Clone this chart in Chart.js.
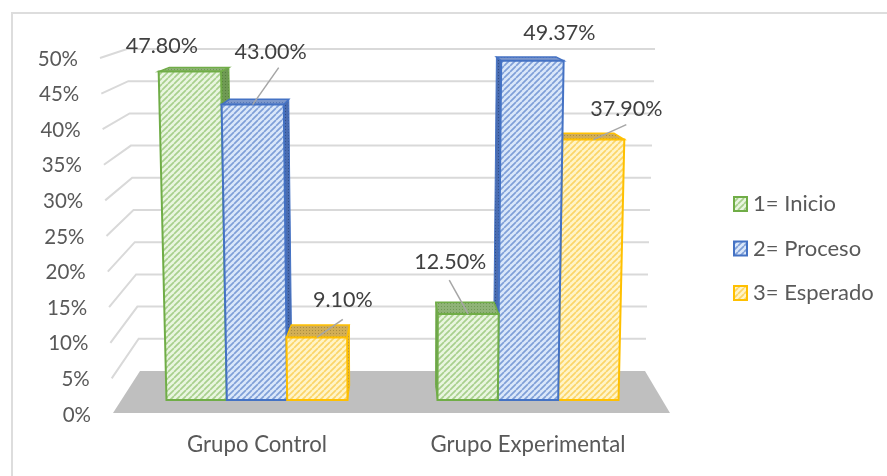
<!DOCTYPE html>
<html>
<head>
<meta charset="utf-8">
<style>
html,body{margin:0;padding:0;background:#fff;}
canvas{display:block;}
</style>
<script src="https://cdn.jsdelivr.net/npm/chart.js@4"></script>
</head>
<body>
<canvas id="chart" width="887" height="476"></canvas>
<script>
const categories = ['Grupo Control', 'Grupo Experimental'];
const seriesNames = ['1= Inicio', '2= Proceso', '3= Esperado'];
const inicio = [47.8, 12.5];
const proceso = [43.0, 49.37];
const esperado = [9.1, 37.9];

const FONT = '"Lato", sans-serif';

// label offset from the bar's top centre: [series][category] = [dx, dy, leader dx, leader dy]
const labelOffsets = [
    [[-28, -26], [-18, -52, -19, -34]],
    [[18, -53, 26, -37], [27, -28]],
    [[26, -37, 26, -18], [33, -31, 33, -15]]
];

function hatch(bg, fg) {
    const c = document.createElement('canvas');
    c.width = c.height = 6;
    const g = c.getContext('2d');
    g.fillStyle = bg;
    g.fillRect(0, 0, 6, 6);
    g.strokeStyle = fg;
    g.lineWidth = 1.7;
    g.beginPath();
    for (let i = -6; i <= 6; i += 6) {
        g.moveTo(i, 6);
        g.lineTo(i + 6, 0);
    }
    g.stroke();
    return g.canvas;
}

function dots(bg, fg) {
    const c = document.createElement('canvas');
    c.width = c.height = 3;
    const g = c.getContext('2d');
    g.fillStyle = bg;
    g.fillRect(0, 0, 3, 3);
    g.fillStyle = fg;
    g.fillRect(0, 0, 1, 1);
    return g.canvas;
}

const ctx = document.getElementById('chart').getContext('2d');

const styles = [
    {line: '#70ad47', front: ctx.createPattern(hatch('#e9f5e0', '#a8d08d'), 'repeat'),
        top: ctx.createPattern(dots('#8fb377', '#6f9a54'), 'repeat'), side: ctx.createPattern(dots('#6f9a54', '#557f3c'), 'repeat')},
    {line: '#4472c4', front: ctx.createPattern(hatch('#dae7f9', '#7f9fd8'), 'repeat'),
        top: ctx.createPattern(dots('#7c97cb', '#5676b4'), 'repeat'), side: ctx.createPattern(dots('#4a6cb0', '#2f4e87'), 'repeat')},
    {line: '#ffc000', front: ctx.createPattern(hatch('#fff4c8', '#fbd568'), 'repeat'),
        top: ctx.createPattern(dots('#d2ae55', '#a98c40'), 'repeat'), side: ctx.createPattern(dots('#d2ae55', '#a98c40'), 'repeat')}
];

// the picture is a 3D chart seen in perspective
function lean(x, v) { return x + 0.0007 * (x - 400) * v; }
function depth(x) { return x - 0.045 * (x - 395); }
function leftEdge(v) { return 113 - 0.26 * v; }

function poly(c, pts, fill, stroke, width) {
    c.beginPath();
    pts.forEach(function(p, i) { i ? c.lineTo(p[0], p[1]) : c.moveTo(p[0], p[1]); });
    c.closePath();
    c.fillStyle = fill;
    c.fill();
    if (stroke) {
        c.strokeStyle = stroke;
        c.lineWidth = width;
        c.stroke();
    }
}

function drawBar(chart, si, cat) {
    const c = chart.ctx;
    const st = styles[si];
    const el = chart.getDatasetMeta(si).data[cat];
    const v = chart.data.datasets[si].data[cat];
    const wall = chart.scales.yWall, bar = chart.scales.yBar;
    const xl = el.x - el.width / 2, xr = el.x + el.width / 2;
    const yBack = (bar.getPixelForValue(v) + wall.getPixelForValue(v)) / 2;
    const yBase = (bar.getPixelForValue(0) + wall.getPixelForValue(0)) / 2;
    const tl = lean(xl, v), tr = lean(xr, v);
    const sx = el.x < 395 ? xr : xl;
    poly(c, [[lean(sx, v), el.y], [depth(lean(sx, v)), yBack], [depth(sx), yBase], [sx, el.base]], st.side, st.line, 1);
    poly(c, [[tl, el.y], [depth(tl), yBack], [depth(tr), yBack], [tr, el.y]], st.top, st.line, 1.5);
    poly(c, [[tl, el.y], [tr, el.y], [xr, el.base], [xl, el.base]], st.front, st.line, 2);
}

const scene = {
    id: 'scene',
    beforeDatasetsDraw(chart) {
        const c = chart.ctx;
        const y = chart.scales.y, wall = chart.scales.yWall;
        c.save();
        // frame
        c.strokeStyle = '#dddddd';
        c.lineWidth = 2;
        c.beginPath();
        c.moveTo(12, 476);
        c.lineTo(12, 13);
        c.lineTo(887, 13);
        c.stroke();
        // floor
        poly(c, [[leftEdge(0), y.getPixelForValue(0) - 1], [140, wall.getPixelForValue(0)],
            [645, wall.getPixelForValue(0)], [670, y.getPixelForValue(0) - 1]], '#bfbfbf');
        // walls and axis labels
        c.font = '20.5px ' + FONT;
        c.textAlign = 'right';
        c.textBaseline = 'middle';
        y.ticks.forEach(function(t) {
            const v = t.value;
            const yp = y.getPixelForValue(v), yw = wall.getPixelForValue(v);
            if (v > 0) {
                c.strokeStyle = '#d9d9d9';
                c.lineWidth = 2;
                c.beginPath();
                c.moveTo(leftEdge(v), yp);
                c.lineTo(leftEdge(v) + 27, yw);
                c.lineTo(645 + 0.2 * v, yw);
                c.stroke();
            }
            c.fillStyle = '#595959';
            c.fillText(t.label, 91 - 0.26 * v, yp + 1);
        });
        // bars: painted back to front, the two groups lean opposite ways
        [[0, 1, 2], [2, 1, 0]].forEach(function(order, cat) {
            order.forEach(function(si) {
                drawBar(chart, si, cat);
            });
        });
        c.restore();
    },
    beforeDatasetDraw() {
        return false;
    },
    afterDatasetsDraw(chart) {
        const c = chart.ctx;
        c.save();
        c.font = '21.5px ' + FONT;
        c.textAlign = 'center';
        c.textBaseline = 'middle';
        chart.data.datasets.forEach(function(d, si) {
            chart.getDatasetMeta(si).data.forEach(function(el, cat) {
                const v = d.data[cat];
                const o = labelOffsets[si][cat];
                const px = lean(el.x, v), py = el.y;
                if (o.length > 2) {
                    c.strokeStyle = '#a6a6a6';
                    c.lineWidth = 1.5;
                    c.beginPath();
                    c.moveTo(px + o[2], py + o[3]);
                    c.lineTo(px, py);
                    c.stroke();
                }
                c.fillStyle = '#404040';
                c.fillText(v.toFixed(2) + '%', px + o[0], py + o[1]);
            });
        });
        // legend
        c.textAlign = 'left';
        c.font = '22px ' + FONT;
        chart.data.datasets.forEach(function(d, si) {
            const ly = 204 + si * 44.5;
            poly(c, [[734, ly - 7], [747, ly - 7], [747, ly + 7], [734, ly + 7]], styles[si].front, styles[si].line, 2);
            c.fillStyle = '#595959';
            c.fillText(d.label, 753, ly);
        });
        c.restore();
    }
};

new Chart(ctx, {
    type: 'bar',
    data: {
        labels: categories,
        datasets: [
            {label: seriesNames[0], data: inicio, yAxisID: 'yBar', backgroundColor: styles[0].front, borderColor: styles[0].line},
            {label: seriesNames[1], data: proceso, yAxisID: 'yBar', backgroundColor: styles[1].front, borderColor: styles[1].line},
            {label: seriesNames[2], data: esperado, yAxisID: 'yBar', backgroundColor: styles[2].front, borderColor: styles[2].line}
        ]
    },
    options: {
        responsive: false,
        animation: false,
        categoryPercentage: 0.668,
        barPercentage: 1,
        layout: {padding: {left: 121.5, right: 223.5, top: 47, bottom: 12}},
        plugins: {legend: {display: false}, tooltip: {enabled: false}},
        scales: {
            x: {
                grid: {display: false},
                border: {display: false},
                ticks: {padding: 10, minRotation: 0, maxRotation: 0, color: '#595959', font: {family: FONT, size: 22.2}},
                afterFit: function(s) { s.height = 50; }
            },
            y: {
                display: false,
                min: 0,
                max: 51.54,
                ticks: {stepSize: 5, includeBounds: false, callback: function(v) { return v + '%'; }}
            },
            // same values, read on the front plane of the bars
            yBar: {display: false, min: -2.04, max: 51.38},
            // and on the back wall
            yWall: {display: false, min: -6.68, max: 50.31}
        }
    },
    plugins: [scene]
});
</script>
</body>
</html>
